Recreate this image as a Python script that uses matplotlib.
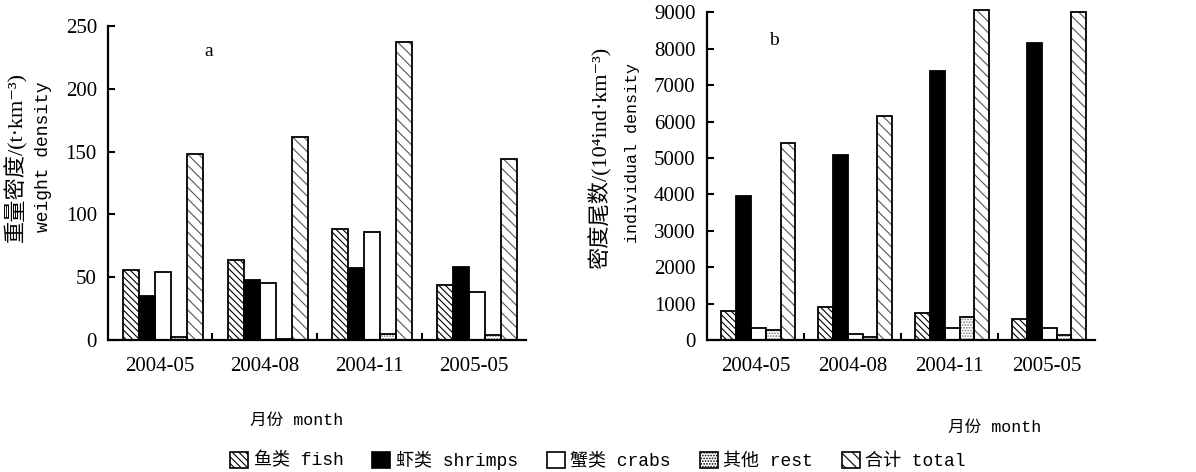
import numpy as np
import matplotlib
matplotlib.use("Agg")
import matplotlib.pyplot as plt
from matplotlib.patches import Patch

plt.rcParams['font.family'] = ['Liberation Serif', 'Noto Sans CJK SC', 'DejaVu Sans']
plt.rcParams['hatch.linewidth'] = 0.8

months = ["2004-05", "2004-08", "2004-11", "2005-05"]
series = ["fish", "shrimps", "crabs", "rest", "total"]
legend_labels = ["鱼类 fish", "虾类 shrimps", "蟹类 crabs", "其他 rest", "合计 total"]

# weight density (t/km3)
w_fish = [56, 64, 88, 44]
w_shrimp = [35, 48, 57, 58]
w_crab = [54, 45, 86, 38]
w_rest = [2, 1, 5, 4]
w_total = [148, 162, 237, 144]

# individual density (10^4 ind/km3)
n_fish = [800, 900, 750, 580]
n_shrimp = [3950, 5090, 7400, 8150]
n_crab = [340, 170, 320, 330]
n_rest = [270, 90, 640, 130]
n_total = [5400, 6160, 9060, 9000]

styles = [
    dict(face="white", hatch="\\\\\\\\\\", hcolor="black"),
    dict(face="black", hatch="", hcolor="black"),
    dict(face="white", hatch="", hcolor="black"),
    dict(face="white", hatch="......", hcolor="#777777"),
    dict(face="white", hatch="\\\\\\", hcolor="#555555"),
]

fig = plt.figure(figsize=(11.96, 4.72), dpi=100)
ax1 = fig.add_axes([0.0903, 0.2797, 0.3495, 0.665])
ax2 = fig.add_axes([0.591, 0.2797, 0.3244, 0.694])


def draw(ax, data, ymax, yticks):
    x = np.arange(len(months))
    bw = 0.153
    for i, (vals, st) in enumerate(zip(data, styles)):
        pos = x - 2 * bw + i * bw + 0.03
        ax.bar(pos, vals, bw, color=st["face"], hatch=st["hatch"],
               edgecolor=st["hcolor"], linewidth=0, clip_on=False, zorder=2)
        ax.bar(pos, vals, bw, fill=False, edgecolor="black",
               linewidth=1.3, clip_on=False, zorder=3)
    ax.set_xlim(-0.5, len(months) - 0.5)
    ax.set_ylim(0, ymax)
    ax.set_yticks(yticks)
    ax.set_xticks(x[:-1] + 0.5)
    ax.set_xticklabels([])
    ax.set_xticks(x, minor=True)
    ax.set_xticklabels(months, minor=True)
    ax.tick_params(axis="x", which="major", direction="in", length=5, width=1.5)
    ax.tick_params(axis="x", which="minor", length=0, pad=12, labelsize=15)
    ax.tick_params(axis="y", direction="in", length=5, width=1.5, labelsize=15, pad=8)
    for s in ["top", "right"]:
        ax.spines[s].set_visible(False)
    for s in ["left", "bottom"]:
        ax.spines[s].set_linewidth(1.6)


draw(ax1, [w_fish, w_shrimp, w_crab, w_rest, w_total], 250, range(0, 251, 50))
draw(ax2, [n_fish, n_shrimp, n_crab, n_rest, n_total], 9000, range(0, 9001, 1000))

ax1.text(0.23, 0.905, "a", transform=ax1.transAxes, fontsize=14)
ax2.text(0.16, 0.90, "b", transform=ax2.transAxes, fontsize=14)

fig.text(0.0135, 0.667, "重量密度/(t·km⁻³)", rotation=90,
         ha="center", va="center", fontsize=16)
fig.text(0.036, 0.667, "weight density", rotation=90, ha="center", va="center",
         fontsize=13, family="Liberation Mono")
fig.text(0.502, 0.665, "密度尾数/(10⁴ind·km⁻³)",
         rotation=90, ha="center", va="center", fontsize=16)
fig.text(0.529, 0.676, "individual density", rotation=90, ha="center", va="center",
         fontsize=12, family="Liberation Mono")

fig.text(0.248, 0.11, "月份 month", ha="center", va="center", fontsize=12,
         family=["Liberation Mono", "Noto Sans CJK SC"])
fig.text(0.832, 0.095, "月份 month", ha="center", va="center", fontsize=12,
         family=["Liberation Mono", "Noto Sans CJK SC"])

handles = [Patch(facecolor=st["face"], hatch=st["hatch"], edgecolor="black", linewidth=1.2)
           for st in styles]
fig.legend(handles, legend_labels, loc="center", bbox_to_anchor=(0.5, 0.025), ncol=5,
           frameon=False, handlelength=1.0, handleheight=1.0,
           handletextpad=0.3, columnspacing=1.6,
           prop={"family": ["Liberation Mono", "Noto Sans CJK SC"], "size": 13})

fig.savefig("out.png", dpi=100)
